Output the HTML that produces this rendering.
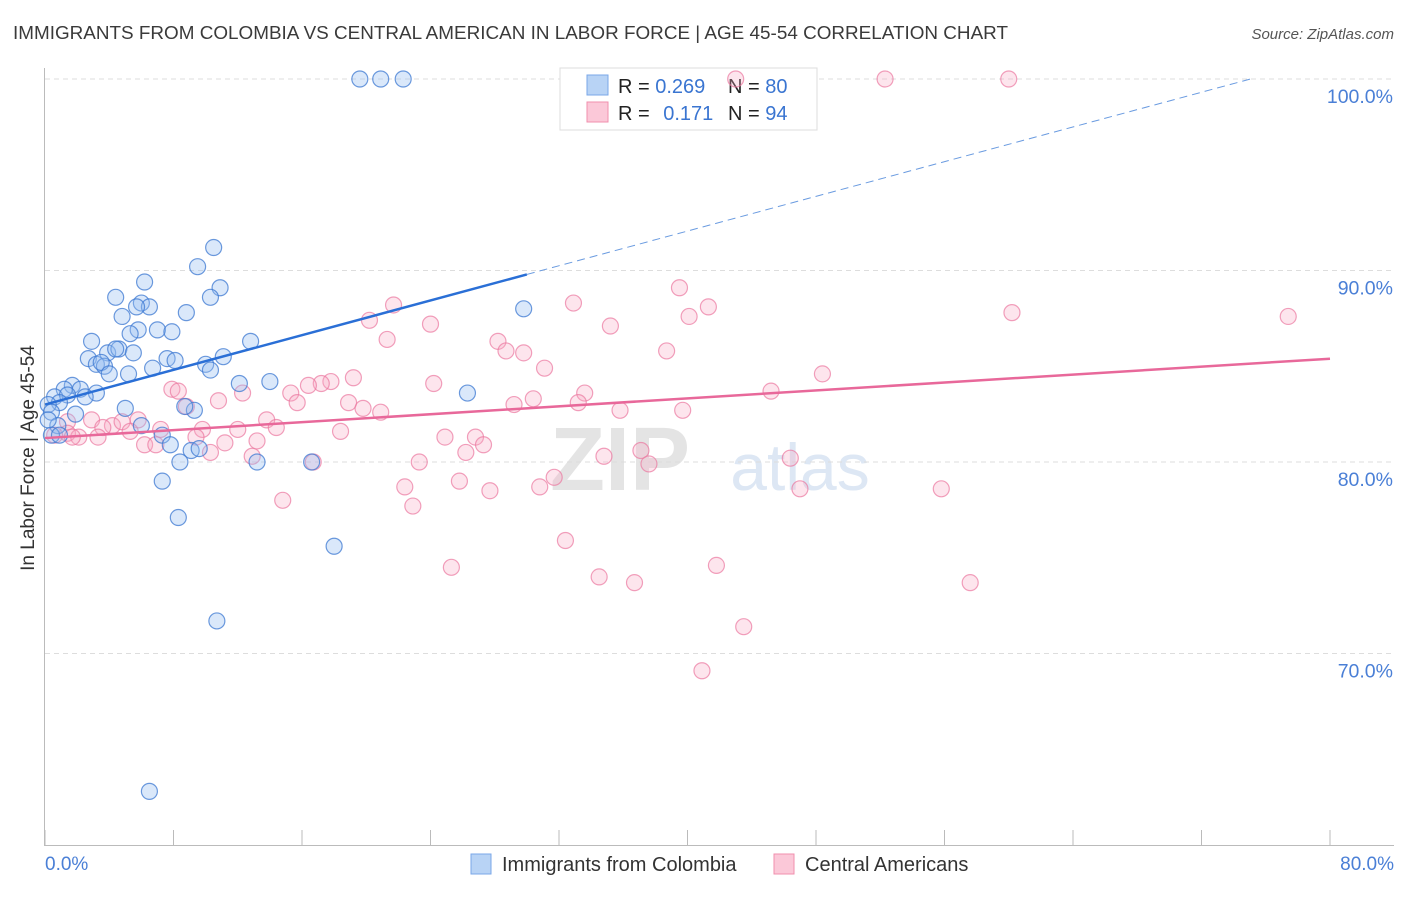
<!DOCTYPE html>
<html><head><meta charset="utf-8"><style>
body{margin:0;background:#fff;font-family:"Liberation Sans",sans-serif}
svg text{font-family:"Liberation Sans",sans-serif}
</style></head><body>
<svg id="c" width="1406" height="892">
<text x="13" y="39" font-size="18.5" textLength="995" lengthAdjust="spacingAndGlyphs" fill="#3a3a3a">IMMIGRANTS FROM COLOMBIA VS CENTRAL AMERICAN IN LABOR FORCE | AGE 45-54 CORRELATION CHART</text>
<text x="1394" y="39" font-size="15" fill="#555" font-style="italic" text-anchor="end">Source: ZipAtlas.com</text>
<text x="620" y="490" font-size="90" fill="#e4e4e4" font-family="Liberation Serif" font-weight="bold" text-anchor="middle">ZIP</text>
<text x="800" y="490" font-size="66" fill="#dde7f4" text-anchor="middle">atlas</text>
<g id="grid"></g>
<text transform="translate(34,458) rotate(-90)" font-size="19" fill="#333" text-anchor="middle">In Labor Force | Age 45-54</text>
<text x="45" y="870" font-size="19" fill="#4a7fd6">0.0%</text>
<text x="1394" y="870" font-size="19" fill="#4a7fd6" text-anchor="end">80.0%</text>
<g>
<rect x="560" y="68" width="257" height="62" fill="#fff" stroke="#ddd"/>
<rect x="587" y="75" width="21" height="20" fill="#b8d3f5" stroke="#7aa7e8"/>
<rect x="587" y="102" width="21" height="20" fill="#fbc8d8" stroke="#f08fae"/>
<text x="618" y="93" font-size="20" fill="#222">R = <tspan fill="#3a75d1">0.269</tspan></text>
<text x="728" y="93" font-size="20" fill="#222">N = <tspan fill="#3a75d1">80</tspan></text>
<text x="618" y="120" font-size="20" fill="#222">R = <tspan fill="#3a75d1" dx="8">0.171</tspan></text>
<text x="728" y="120" font-size="20" fill="#222">N = <tspan fill="#3a75d1">94</tspan></text>
</g>
<g>
<rect x="471" y="854" width="20" height="20" fill="#b8d3f5" stroke="#7aa7e8"/>
<text x="502" y="871" font-size="20" fill="#333">Immigrants from Colombia</text>
<rect x="774" y="854" width="20" height="20" fill="#fbc8d8" stroke="#f08fae"/>
<text x="805" y="871" font-size="20" fill="#333">Central Americans</text>
</g>
<g id="marks"></g>
</svg>
<script>
const yTicks=[70,80,90,100];
const xTicks=[0,8,16,24,32,40,48,56,64,72,80];
const blueX=[19.6,20.9,22.3,10.5,9.5,6.2,10.9,4.4,10.3,6.0,6.5,5.7,8.8,4.8,29.8,5.8,7.0,7.9,5.3,2.9,12.8,3.9,4.6,4.4,5.5,2.7,11.1,7.6,8.1,3.2,3.7,3.5,10.0,10.3,6.7,5.2,4.0,12.1,14.0,1.7,1.2,2.2,3.2,0.6,1.4,2.5,0.9,0.2,0.4,26.3,5.0,9.3,8.7,1.9,0.8,6.0,7.3,0.4,0.9,7.8,9.1,9.6,8.4,13.2,16.6,7.3,8.3,18.0,10.7,6.5,0.2];
const blueY=[100,100,100,91.2,90.2,89.4,89.1,88.6,88.6,88.3,88.1,88.1,87.8,87.6,88.0,86.9,86.9,86.8,86.7,86.3,86.3,85.7,85.9,85.9,85.7,85.4,85.5,85.4,85.3,85.1,85.0,85.2,85.1,84.8,84.9,84.6,84.6,84.1,84.2,84.0,83.8,83.8,83.6,83.4,83.5,83.4,83.1,83.0,82.6,83.6,82.8,82.7,82.9,82.5,81.9,81.9,81.4,81.4,81.4,80.9,80.6,80.7,80.0,80.0,80.0,79.0,77.1,75.6,71.7,62.8,82.2];
const pinkX=[43.0,52.3,60.0,39.5,32.9,21.7,41.3,60.2,77.4,20.2,40.1,24.0,35.2,21.3,28.2,28.7,29.8,38.7,31.1,48.4,19.2,17.8,17.2,16.4,24.2,7.9,8.3,12.3,15.3,33.6,45.2,10.8,15.7,18.9,30.4,29.2,33.2,19.8,20.9,35.8,39.7,8.8,2.9,13.8,5.8,1.4,4.2,4.8,3.6,7.2,9.8,12.0,14.4,5.3,18.4,1.4,2.1,3.3,1.7,9.4,0.6,11.2,13.2,6.2,6.9,24.9,26.8,27.3,26.2,10.3,12.9,34.8,37.1,46.4,23.3,37.6,16.7,25.8,22.4,27.7,30.8,31.7,47.0,55.8,14.8,22.9,32.4,25.3,34.5,36.7,41.8,57.6,43.5,40.9];
const pinkY=[100,100,100,89.1,88.3,88.2,88.1,87.8,87.6,87.4,87.6,87.2,87.1,86.4,86.3,85.8,85.7,85.8,84.9,84.6,84.4,84.2,84.1,84.0,84.1,83.8,83.7,83.6,83.6,83.6,83.7,83.2,83.1,83.1,83.3,83.0,83.1,82.8,82.6,82.7,82.7,82.9,82.2,82.2,82.2,82.1,81.9,82.1,81.8,81.7,81.7,81.7,81.8,81.6,81.6,81.5,81.3,81.3,81.3,81.3,81.4,81.0,81.1,80.9,80.9,81.3,81.3,80.9,80.5,80.5,80.3,80.3,80.6,80.2,80.0,79.9,80.0,79.0,78.7,78.5,78.7,79.2,78.6,78.6,78.0,77.7,75.9,74.5,74.0,73.7,74.6,73.7,71.4,69.1];
const blueFit=[83.0,0.2265];
const pinkFit=[81.25,0.0518];
const sx=v=>45+v/80*1285;
const sy=v=>79+(100-v)*19.15;
const NS='http://www.w3.org/2000/svg';
const grid=document.getElementById('grid'),marks=document.getElementById('marks');
function mk(tag,attrs,parent){const e=document.createElementNS(NS,tag);for(const k in attrs)e.setAttribute(k,attrs[k]);parent.appendChild(e);return e;}
const ax=mk('line',{x1:44.5,y1:68,x2:44.5,y2:846,stroke:'#bbb'},grid);


const bx=mk('line',{x1:44,y1:845.5,x2:1394,y2:845.5,stroke:'#bbb'},grid);


yTicks.forEach(t=>{
 const g=mk('line',{x1:45,x2:1394,y1:sy(t),y2:sy(t),stroke:'#ddd','stroke-dasharray':'5,4'},grid);
 
 
 const l=mk('text',{x:1393,y:sy(t)+24,'font-size':19.5,fill:'#4a7fd6','text-anchor':'end'},grid);
 l.textContent=t.toFixed(1)+'%';
 
 
});
xTicks.forEach(t=>{
 const k=mk('line',{x1:sx(t),x2:sx(t),y1:830,y2:846,stroke:'#bbb'},grid);
 
 
});
function dots(xs,ys,fill,stroke,name){
 xs.forEach((x,i)=>{
  const c=mk('circle',{cx:sx(x),cy:sy(ys[i]),r:8,fill:fill,stroke:stroke,'stroke-width':1.2},marks);
  
  
 });
}
dots(pinkX,pinkY,'rgba(248,170,195,0.3)','rgba(235,120,160,0.7)','central-american-point');
dots(blueX,blueY,'rgba(150,190,240,0.35)','rgba(60,120,210,0.75)','colombia-point');
const bEnd=(100-blueFit[0])/blueFit[1];
const l1=mk('line',{x1:sx(0),y1:sy(blueFit[0]),x2:sx(30),y2:sy(blueFit[0]+blueFit[1]*30),stroke:'#2a6fd6','stroke-width':2.5},marks);


const l2=mk('line',{x1:sx(30),y1:sy(blueFit[0]+blueFit[1]*30),x2:sx(bEnd),y2:sy(100),stroke:'#6a9be0','stroke-width':1,'stroke-dasharray':'8,5'},marks);


const l3=mk('line',{x1:sx(0),y1:sy(pinkFit[0]),x2:sx(80),y2:sy(pinkFit[0]+pinkFit[1]*80),stroke:'#e8689a','stroke-width':2.5},marks);


</script>
</body></html>
